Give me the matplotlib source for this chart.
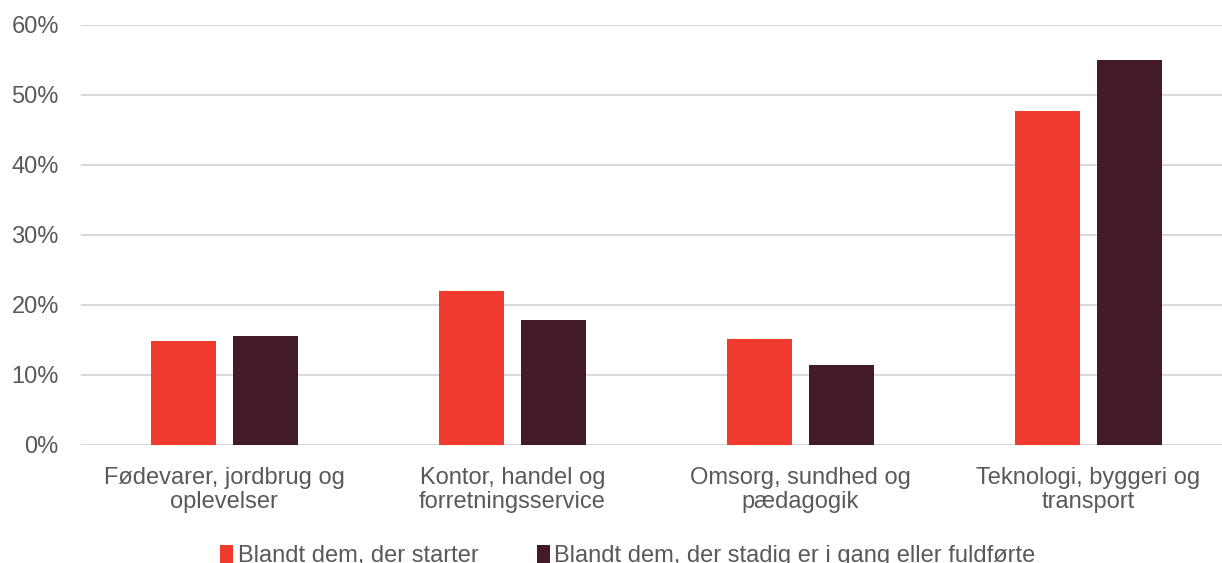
import matplotlib.pyplot as plt
import numpy as np

categories = ['Fødevarer, jordbrug og\noplevelser', 'Kontor, handel og\nforretningsservice',
              'Omsorg, sundhed og\npædagogik', 'Teknologi, byggeri og\ntransport']
starter = [14.9, 22.0, 15.1, 47.7]
fuldfoerte = [15.6, 17.9, 11.4, 55.0]
series_names = ['Blandt dem, der starter', 'Blandt dem, der stadig er i gang eller fuldførte']
yticks = [0, 10, 20, 30, 40, 50, 60]

plt.rcParams['font.family'] = ['Liberation Sans', 'DejaVu Sans']
text_color = '#595959'

fig = plt.figure(figsize=(12.22, 5.63), dpi=100)
ax = fig.add_axes([0.0663, 0.2096, 0.9337, 0.746])

x = np.arange(len(categories))
w = 0.226
ax.bar(x - 0.142, starter, w, color='#EE3B2E', label=series_names[0], zorder=3)
ax.bar(x + 0.144, fuldfoerte, w, color='#431A25', label=series_names[1], zorder=3)

ax.set_xlim(-0.498, 3.464)
ax.set_ylim(0, 60)
ax.set_yticks(yticks)
ax.set_yticklabels([f'{t}%' for t in yticks])
ax.set_xticks(x)
ax.set_xticklabels(categories, linespacing=1.1)
ax.grid(axis='y', color='#d9d9d9', lw=1.5, zorder=0)
for s in ax.spines.values():
    s.set_visible(False)
ax.tick_params(length=0, labelsize=17, colors=text_color)
ax.tick_params(axis='y', pad=16)
ax.tick_params(axis='x', pad=16)

fig.legend(loc='center', bbox_to_anchor=(0.514, 0.012), ncol=2, frameon=False,
           fontsize=17, labelcolor=text_color, handlelength=0.55, handleheight=0.8,
           handletextpad=0.2, columnspacing=2.45)

fig.savefig('out.png', dpi=100)
